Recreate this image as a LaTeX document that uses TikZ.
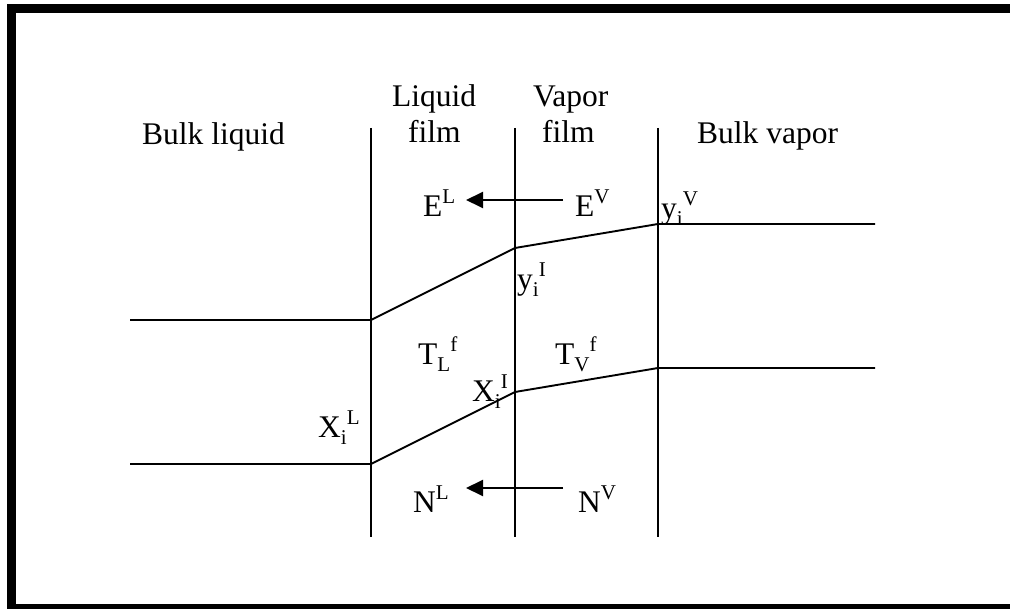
\documentclass[tikz,border=0pt]{standalone}
\usepackage{fontspec}
\setmainfont{Liberation Serif}
\usetikzlibrary{arrows.meta}
\newcommand\supx[1]{\raisebox{0.42em}{\fontsize{21}{21}\selectfont #1}}
\newcommand\subx[1]{\raisebox{-0.22em}{\fontsize{21}{21}\selectfont #1}}
\begin{document}
\begin{tikzpicture}[x=1pt,y=-1pt,
  lbl/.style={inner sep=0pt,anchor=base west,font=\fontsize{31.5}{36}\selectfont},
  wall/.style={line width=1.9pt},
  prof/.style={line width=1.9pt,line join=miter},
  flux/.style={line width=1.9pt,-{Triangle[length=17pt,width=16pt]}}]
\useasboundingbox (0,0) rectangle (1010,609);
\clip (0,0) rectangle (1010,609);
\draw[line width=9pt] (11,8.5) rectangle (1030,608.5);
% film boundaries
\coordinate (w1t) at (371,128); \coordinate (w1b) at (371,537);
\coordinate (w2t) at (515,128); \coordinate (w2b) at (515,537);
\coordinate (w3t) at (658,128); \coordinate (w3b) at (658,537);
\draw[wall] (w1t) -- (w1b);
\draw[wall] (w2t) -- (w2b);
\draw[wall] (w3t) -- (w3b);
% upper profile
\coordinate (u0) at (130,320); \coordinate (u1) at (371,320);
\coordinate (u2) at (515,248); \coordinate (u3) at (658,224);
\coordinate (u4) at (875,224);
\draw[prof] (u0) -- (u1) -- (u2) -- (u3) -- (u4);
% lower profile
\coordinate (l0) at (130,464); \coordinate (l1) at (371,464);
\coordinate (l2) at (515,392); \coordinate (l3) at (658,368);
\coordinate (l4) at (875,368);
\draw[prof] (l0) -- (l1) -- (l2) -- (l3) -- (l4);
% headings
\node[lbl] (bl) at (142,145) {Bulk liquid};
\node[lbl] (lf1) at (392,107) {Liquid};
\node[lbl] (lf2) at (408,143) {film};
\node[lbl] (vf1) at (533,107) {Vapor};
\node[lbl] (vf2) at (542,143) {film};
\node[lbl] (bv) at (697,144) {Bulk vapor};
% fluxes
\node[lbl] (EL) at (423,217) {E\supx{L}};
\node[lbl] (EV) at (575,217) {E\supx{V}};
\node[lbl] (NL) at (413,513) {N\supx{L}};
\node[lbl] (NV) at (578,513) {N\supx{V}};
\coordinate (eS) at (563,200); \coordinate (eT) at (466,200);
\coordinate (nS) at (563,488); \coordinate (nT) at (466,488);
\draw[flux] (eS) -- (eT);
\draw[flux] (nS) -- (nT);
% compositions and temperatures
\node[lbl] (yV) at (661,219) {y\subx{i}\supx{V}};
\node[lbl] (yI) at (517,290) {y\subx{i}\supx{I}};
\node[lbl] (TL) at (418,365) {T\subx{L}\supx{f}};
\node[lbl] (TV) at (555,365) {T\subx{V}\supx{f}};
\node[lbl] (XI) at (472,402) {X\subx{i}\supx{I}};
\node[lbl] (XL) at (318,438) {X\subx{i}\supx{L}};
\end{tikzpicture}
\end{document}
